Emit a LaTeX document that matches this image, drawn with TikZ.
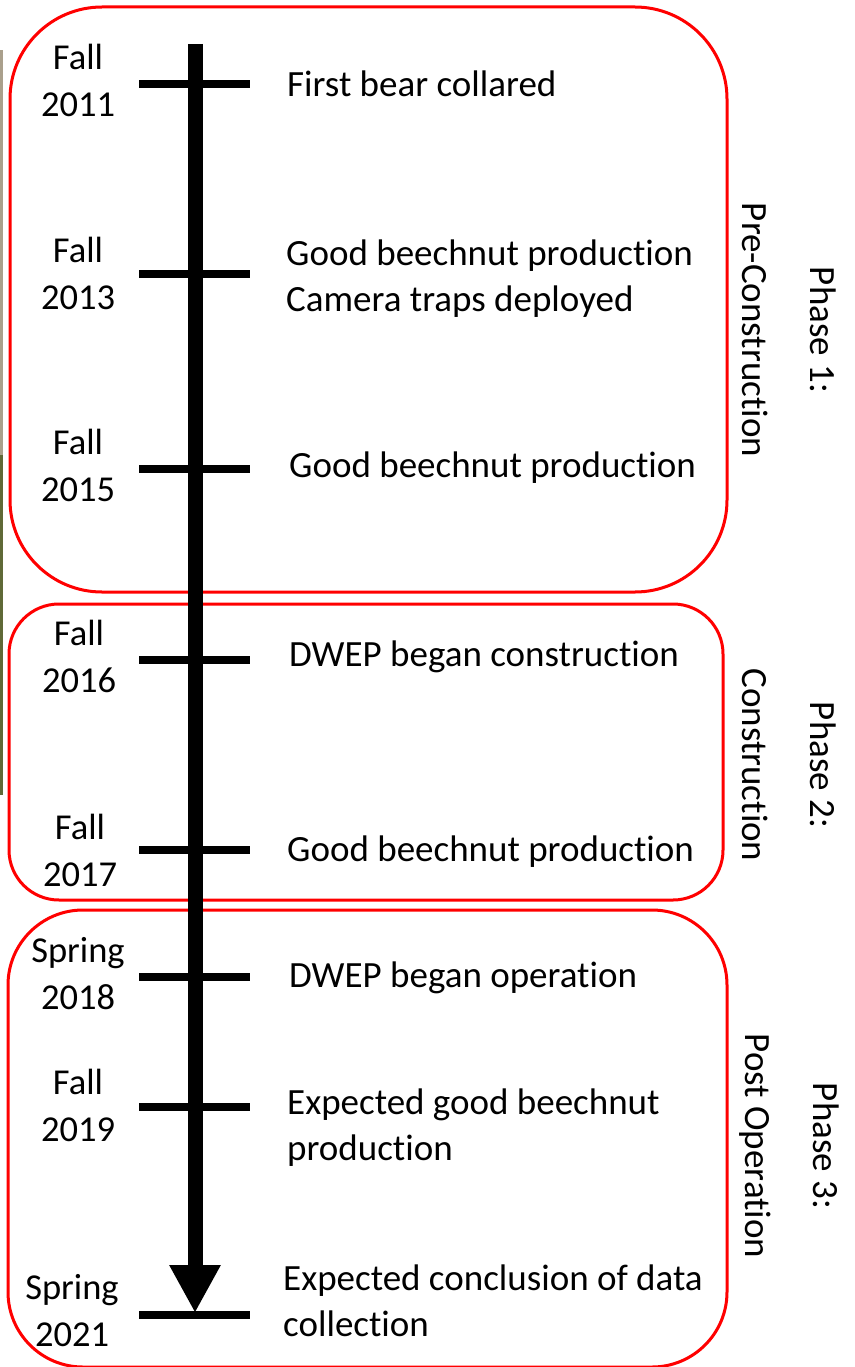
\documentclass[tikz,border=0pt]{standalone}
\usepackage{fontspec}
\setmainfont{Carlito}[Ligatures=NoCommon]
\usetikzlibrary{arrows.meta}
\definecolor{stripTop}{RGB}{170,160,140}
\definecolor{stripBot}{RGB}{95,105,55}
\begin{document}
\begin{tikzpicture}[x=1pt,y=-1pt,
  phasebox/.style={draw=red,line width=3pt},
  tick/.style={line width=8pt},
  yearlbl/.style={align=center,font=\fontsize{36.5}{47}\selectfont,inner sep=0pt},
  eventlbl/.style={anchor=west,align=left,font=\fontsize{37}{46}\selectfont,inner sep=0pt},
  phaselbl/.style={rotate=-90,align=center,font=\fontsize{37}{68}\selectfont,inner sep=0pt}]
\useasboundingbox (0,0) rectangle (854,1367);
% photo edge remnant
\fill[stripTop] (0,50) rectangle (3,455);
\fill[stripBot] (0,455) rectangle (3,795);
% phase boxes
\draw[phasebox,rounded corners=92pt] (10,7) rectangle (727,592);
\draw[phasebox,rounded corners=50pt] (9,604) rectangle (723,900);
\draw[phasebox,rounded corners=75pt] (8,910) rectangle (727,1367);
% axis
\coordinate (top) at (195,44);
\coordinate (end) at (195,1313);
\draw[line width=15pt,-{Triangle[length=48pt,width=48pt]}] (top) -- (end);
% ticks
\foreach \n/\y in {a/84,b/274,c/469,d/660,e/850,f/977,g/1107,h/1315}{
  \coordinate (\n l) at (139,\y);
  \coordinate (\n r) at (250,\y);
  \draw[tick] (\n l) -- (\n r);
}
% year labels
\node[yearlbl] (y1) at (78,80) {Fall\\2011};
\node[yearlbl] (y2) at (78,273) {Fall\\2013};
\node[yearlbl] (y3) at (78,465) {Fall\\2015};
\node[yearlbl] (y4) at (79,656) {Fall\\2016};
\node[yearlbl] (y5) at (80,850) {Fall\\2017};
\node[yearlbl] (y6) at (78,974) {Spring\\2018};
\node[yearlbl] (y7) at (78,1105) {Fall\\2019};
\node[yearlbl] (y8) at (72,1311) {Spring\\2021};
% events
\node[eventlbl] (e1) at (287,84) {First bear collared};
\node[eventlbl] (e2) at (286,279) {Good beechnut production\\Camera traps deployed};
\node[eventlbl] (e3) at (289,468) {Good beechnut production};
\node[eventlbl] (e4) at (289,657) {DWEP began construction};
\node[eventlbl] (e5) at (287,852) {Good beechnut production};
\node[eventlbl] (e6) at (289,978) {DWEP began operation};
\node[eventlbl] (e7) at (287,1128) {Expected good beechnut\\production};
\node[eventlbl] (e8) at (283,1301) {Expected conclusion of data\\collection};
% phase labels
\node[phaselbl] (p1) at (789,330) {Phase 1:\\Pre-Construction};
\node[phaselbl] (p2) at (789,765) {Phase 2:\\Construction};
\node[phaselbl] (p3) at (789,1146) {Phase 3:\\Post Operation};
\end{tikzpicture}
\end{document}
